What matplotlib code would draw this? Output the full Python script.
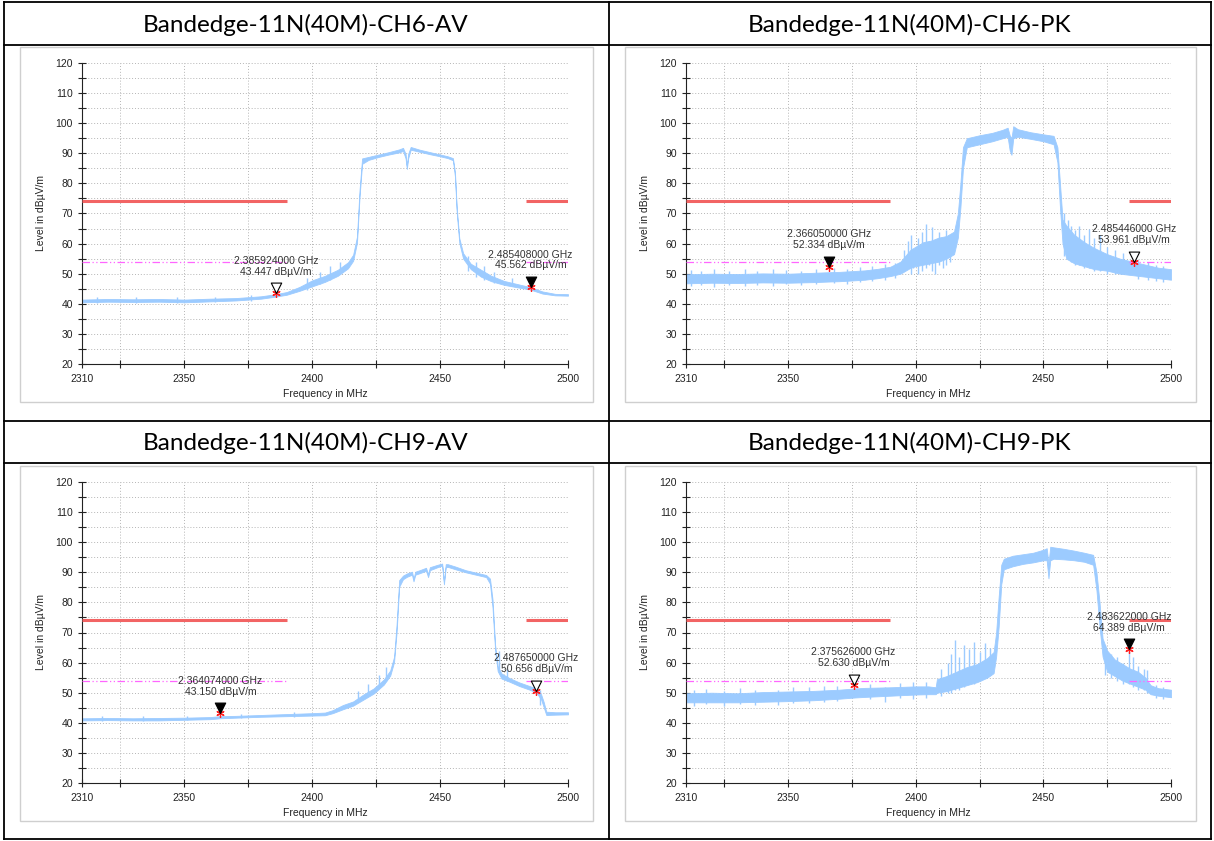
import matplotlib.pyplot as plt
from matplotlib.lines import Line2D
from matplotlib.patches import Rectangle
from matplotlib.path import Path

W, H = 1214, 841

titles = ["Bandedge-11N(40M)-CH6-AV", "Bandedge-11N(40M)-CH6-PK",
          "Bandedge-11N(40M)-CH9-AV", "Bandedge-11N(40M)-CH9-PK"]

# limit lines (dBuV/m) and the frequency spans they cover (MHz)
limit_pk = 74
limit_av = 54
limit_spans = [(2310, 2390), (2483.5, 2500)]

# ---- CH6 AV trace: frequency, lower / upper edge of the trace
av6_f = [2310, 2320, 2330, 2340, 2350, 2360, 2370, 2380, 2385, 2390, 2395, 2400, 2405, 2410, 2414,
         2416, 2417.5, 2418.5, 2419.5, 2422, 2426, 2430, 2434, 2435.5, 2436.5, 2437, 2437.5, 2438.5,
         2442, 2446, 2450, 2453, 2455, 2455.8, 2456.5, 2457.5, 2459, 2462, 2466, 2470, 2475, 2480,
         2485, 2490, 2495, 2500]
av6_lo = [40.5, 40.7, 40.6, 40.7, 40.5, 40.8, 41.1, 41.7, 42.3, 43.0, 44.3, 45.8, 47.3, 49.3, 51.8,
          54.3, 60.3, 75.5, 86.5, 87.8, 88.8, 89.6, 90.3, 90.8, 88.3, 84.8, 88.3, 91.2,
          90.5, 89.7, 89.0, 88.4, 87.7, 82.3, 70.3, 60.3, 55.0, 51.5, 49.0, 47.5, 46.3, 45.5,
          44.8, 43.4, 42.8, 42.7]
av6_hi = [41.4, 41.6, 41.5, 41.6, 41.4, 41.7, 41.9, 42.5, 43.1, 43.9, 45.6, 47.8, 49.3, 51.3, 53.8,
          56.3, 62.3, 77.8, 88.3, 88.8, 89.6, 90.4, 91.3, 91.8, 89.8, 85.8, 89.8, 92.1,
          91.2, 90.4, 89.6, 89.0, 88.4, 83.8, 71.8, 61.8, 56.8, 53.3, 51.3, 49.3, 47.6, 46.6,
          45.6, 44.1, 43.3, 43.2]
av6_spk_f = [2316, 2331, 2347, 2362, 2376, 2398, 2403, 2407, 2411, 2461, 2464, 2467, 2471, 2478]
av6_spk_lo = [40.3, 40.4, 40.3, 40.6, 41.0, 44.5, 46.5, 48.0, 50.0, 51.0, 49.0, 48.0, 46.8, 45.8]
av6_spk_hi = [42.2, 42.3, 42.1, 42.4, 42.8, 48.5, 50.5, 52.5, 54.0, 56.0, 54.0, 52.5, 50.5, 48.5]

# ---- CH6 PK trace
pk6_f = [2310, 2320, 2330, 2340, 2350, 2360, 2366, 2370, 2380, 2385, 2390, 2394, 2396, 2398, 2400,
         2403, 2406, 2409, 2412, 2415, 2416.5, 2417.5, 2418.5, 2420, 2425, 2430, 2434, 2436, 2436.8,
         2437.5, 2438.2, 2440, 2445, 2450, 2454, 2455.5, 2456.5, 2457.5, 2459, 2462, 2466, 2470,
         2475, 2480, 2485, 2490, 2495, 2500]
pk6_lo = [46.8, 47.0, 46.9, 47.1, 47.0, 47.2, 47.4, 47.5, 48.0, 48.5, 49.2, 50.0, 51.0, 52.0, 52.5,
          53.0, 53.5, 54.0, 55.0, 56.5, 62.0, 72.0, 85.0, 92.0, 93.0, 94.0, 95.0, 95.5, 91.0,
          89.5, 95.0, 95.5, 94.8, 94.0, 93.0, 87.0, 72.0, 60.0, 55.0, 53.5, 52.5, 51.5,
          51.0, 50.0, 49.5, 49.0, 48.5, 48.0]
pk6_hi = [49.8, 50.0, 49.9, 50.1, 50.0, 50.3, 50.5, 50.6, 51.1, 51.6, 52.3, 54.0, 56.0, 58.0, 59.0,
          60.5, 61.0, 62.0, 62.5, 64.0, 70.0, 80.0, 92.0, 95.0, 96.0, 96.8, 97.8, 98.5, 96.0,
          95.0, 99.0, 98.0, 97.0, 96.3, 95.8, 92.0, 80.0, 68.0, 66.0, 63.0, 60.5, 58.5,
          56.5, 55.0, 54.0, 53.0, 52.0, 51.5]
pk6_spk_f = [2312, 2316, 2321, 2327, 2333, 2338, 2344, 2349, 2355, 2361, 2368, 2373, 2378, 2383,
             2388, 2392,
             2395.5, 2397, 2398, 2399, 2401, 2402.5, 2404, 2405, 2406.5, 2407.5, 2409, 2410.5, 2412,
             2413.5, 2458, 2459.5, 2461, 2462.5, 2464, 2466, 2468, 2470, 2472, 2475, 2478, 2481,
             2487, 2491, 2494, 2497]
pk6_spk_lo = [45.8, 46.2, 45.6, 46.3, 45.9, 46.4, 46.0, 46.5, 46.2, 46.6, 46.8, 46.5, 47.2, 47.5,
              48.0, 48.5,
              51, 52, 50, 52, 50, 51, 52, 53, 51, 50, 53, 52, 53, 54,
              56, 55, 54, 53, 53, 52, 52, 51, 51, 50, 50, 50,
              48.3, 47.8, 47.5, 47.2]
pk6_spk_hi = [51.3, 50.9, 51.6, 51.0, 51.4, 50.8, 51.5, 51.2, 51.0, 51.7, 52.0, 51.5, 52.3, 52.6,
              53.3, 53.5,
              58, 61, 63, 57, 62, 64, 66.5, 61, 65.5, 60, 64, 60.5, 64.5, 62.5,
              70, 68, 66, 64.5, 66, 63, 65, 62, 63, 59, 58, 57,
              54.5, 53.8, 53.0, 52.5]

# ---- CH9 AV trace
av9_f = [2310, 2320, 2330, 2340, 2350, 2360, 2364, 2370, 2380, 2390, 2400, 2405, 2408, 2412, 2416,
         2420, 2424, 2428, 2430.5, 2432, 2433, 2434, 2435.5, 2437, 2439, 2439.6, 2440.3, 2442,
         2444.5, 2445.3, 2446, 2449, 2450.8, 2451.5, 2452.2, 2453, 2456, 2460, 2464, 2468, 2469.5,
         2470.5, 2471.5, 2472.5, 2474, 2477, 2481, 2485, 2487.7, 2489.5, 2490.5, 2491.5, 2495, 2500]
av9_lo = [40.8, 40.9, 40.8, 40.8, 41.0, 41.2, 41.5, 41.7, 42.0, 42.2, 42.4, 42.5, 43.2, 44.5, 45.7,
          47.7, 49.7, 52.7, 55.7, 60.2, 70.2, 85.2, 87.7, 88.5, 89.2, 87.0, 89.2, 89.7,
          90.5, 88.4, 90.7, 91.7, 92.2, 86.0, 91.7, 91.8, 91.0, 90.0, 89.2, 88.4, 86.2,
          78.2, 64.2, 57.2, 54.7, 53.7, 52.2, 51.0, 50.0, 47.7, 45.2, 42.6, 42.7, 42.8]
av9_hi = [41.5, 41.6, 41.5, 41.6, 41.7, 41.9, 42.2, 42.3, 42.6, 42.9, 43.2, 43.4, 44.2, 45.9, 47.1,
          49.4, 51.4, 54.4, 57.4, 61.9, 72.9, 87.4, 88.9, 89.6, 90.2, 87.9, 90.2, 90.7,
          91.5, 89.4, 91.7, 92.5, 92.9, 86.9, 92.7, 92.7, 91.9, 90.7, 89.9, 89.1, 87.9,
          80.9, 65.9, 58.9, 56.4, 54.9, 53.4, 52.2, 51.4, 49.4, 46.9, 43.7, 43.5, 43.5]
av9_spk_f = [2318, 2334, 2351, 2372, 2393, 2418, 2422, 2426, 2429, 2473, 2476, 2489]
av9_spk_lo = [40.6, 40.6, 40.8, 41.5, 42.0, 47.0, 49.0, 52.0, 54.0, 58.0, 54.0, 46.0]
av9_spk_hi = [42.2, 42.1, 42.4, 43.0, 43.6, 50.5, 53.0, 56.0, 58.5, 64.0, 58.0, 51.0]

# ---- CH9 PK trace
pk9_f = [2310, 2320, 2330, 2340, 2350, 2360, 2370, 2376, 2380, 2390, 2400, 2405, 2407.8, 2408.3,
         2412, 2416, 2420, 2424, 2428, 2430.5, 2431.5, 2432.5, 2433.5, 2434.5, 2438, 2442, 2446,
         2450, 2451.3, 2452, 2452.7, 2454, 2458, 2462, 2466, 2469.5, 2470.8, 2472, 2473.2, 2475,
         2478, 2481, 2484, 2487, 2490, 2492, 2495, 2500]
pk9_lo = [46.8, 46.8, 46.8, 47.0, 47.2, 47.5, 48.0, 48.4, 48.6, 49.0, 49.4, 49.5, 49.5, 50.0,
          50.5, 51.5, 52.5, 53.5, 55.0, 56.5, 62.0, 72.0, 86.0, 91.0, 92.0, 92.8, 93.3,
          94.0, 94.0, 88.0, 94.0, 94.5, 94.3, 94.0, 93.5, 92.5, 84.0, 72.0, 62.0, 57.0,
          55.5, 54.0, 53.0, 52.0, 51.0, 49.5, 49.0, 48.5]
pk9_hi = [49.8, 50.0, 49.8, 50.2, 50.4, 50.6, 51.0, 51.4, 51.6, 51.8, 52.1, 52.1, 51.8, 54.5,
          55.5, 57.0, 58.5, 59.5, 61.5, 63.5, 70.0, 82.0, 92.5, 94.5, 95.5, 96.0, 96.5,
          97.5, 98.0, 93.0, 98.5, 98.3, 97.8, 97.2, 96.5, 95.8, 90.0, 80.0, 68.0, 64.0,
          61.0, 59.5, 58.0, 57.0, 55.0, 52.5, 51.5, 51.0]
pk9_spk_f = [2313, 2318, 2325, 2331, 2337, 2346, 2352, 2358, 2364, 2369, 2382, 2388, 2394, 2399,
             2404,
             2410, 2412.5, 2414, 2415.5, 2417, 2419, 2421, 2423, 2425, 2427,
             2429, 2474, 2476.5, 2479, 2481, 2483.6, 2485, 2487, 2489.5, 2490.5, 2494, 2497]
pk9_spk_lo = [45.5, 46.2, 45.5, 46.4, 46.0, 45.8, 46.5, 46.7, 46.9, 47.2, 47.8, 47.0, 48.2, 48.0,
              48.4,
              49, 50, 50, 51, 51, 52, 53, 53, 54, 55,
              56, 56, 55, 54, 53, 53, 52, 51, 51, 50, 48.2, 47.8]
pk9_spk_hi = [50.8, 51.2, 50.5, 51.4, 51.0, 51.0, 51.8, 52.0, 52.3, 52.2, 52.8, 52.0, 53.3, 53.6,
              53.4,
              58, 60, 63, 67.5, 62, 66, 64.5, 67, 63.5, 66.5,
              65, 66, 63, 62, 60, 64.4, 62, 59, 58, 57.5, 52.5, 52.0]

# markers: frequency (GHz), level, filled triangle or not
mk_freq = [[2.385924, 2.485408], [2.366050, 2.485446], [2.364074, 2.487650], [2.375626, 2.483622]]
mk_level = [[43.447, 45.562], [52.334, 53.961], [43.150, 50.656], [52.630, 64.389]]
mk_filled = [[False, True], [True, False], [True, False], [False, True]]

traces = [(av6_f, av6_lo, av6_hi, av6_spk_f, av6_spk_lo, av6_spk_hi),
          (pk6_f, pk6_lo, pk6_hi, pk6_spk_f, pk6_spk_lo, pk6_spk_hi),
          (av9_f, av9_lo, av9_hi, av9_spk_f, av9_spk_lo, av9_spk_hi),
          (pk9_f, pk9_lo, pk9_hi, pk9_spk_f, pk9_spk_lo, pk9_spk_hi)]

TRACE = '#9ccbff'
SMALL = 'Liberation Sans'
# marker triangle with its tip on the data point
tri = Path([(-0.5, 1.0), (0.5, 1.0), (0.0, 0.0), (-0.5, 1.0)],
           [Path.MOVETO, Path.LINETO, Path.LINETO, Path.CLOSEPOLY])


def fx(px):
    return px / W


def fy(py):
    return 1 - py / H


def draw_panel(ax, tr, mf, ml, mfill):
    f, lo, hi, sf, slo, shi = tr
    ax.fill_between(f, lo, hi, color=TRACE, lw=0.6, edgecolor=TRACE, zorder=2)
    ax.vlines(sf, slo, shi, color=TRACE, lw=1.0, zorder=2)
    for a, b in limit_spans:
        ax.plot([a, b], [limit_pk, limit_pk], color='#f26464', lw=2.2, solid_capstyle='butt', zorder=3)
        ax.plot([a, b], [limit_av, limit_av], color='#ff66ff', lw=0.9,
                dashes=(6, 2, 1, 2, 1, 2), zorder=3)
    for g, lv, filled in zip(mf, ml, mfill):
        x = g * 1000
        ax.plot(x, lv, marker=(6, 2, 0), color='#ff2020', ms=6, mew=0.9, zorder=4)
        ax.plot(x, lv, marker=tri, ms=15, mfc='black' if filled else 'white',
                mec='black', mew=0.8, zorder=5)
        ax.annotate(f"{g:.9f} GHz\n{lv:.3f} dBµV/m", (x, lv), xytext=(0, 12),
                    textcoords='offset points', ha='center', va='bottom', fontsize=7.5,
                    family=SMALL, color='#333333', linespacing=1.1, zorder=6)

    ax.set_xlim(2310, 2500)
    ax.set_ylim(20, 120)
    ax.set_xticks([2310, 2350, 2400, 2450, 2500])
    ax.set_xticks([2325, 2375, 2425, 2475], minor=True)
    ax.set_yticks(range(20, 121, 10))
    ax.set_yticks(range(25, 120, 10), minor=True)
    ax.tick_params(which='both', direction='inout', length=6, width=0.8, labelsize=7.5,
                   colors='#222222')
    ax.tick_params(axis='x', pad=4)
    for lab in ax.get_xticklabels() + ax.get_yticklabels():
        lab.set_family(SMALL)
    ax.grid(which='both', ls=(0, (1, 2)), color='#b5b5b5', lw=0.7)
    ax.spines['top'].set_visible(False)
    ax.spines['right'].set_visible(False)
    ax.spines['left'].set_color('#222222')
    ax.spines['bottom'].set_color('#222222')
    ax.set_xlabel('Frequency in MHz', fontsize=7.5, family=SMALL, color='#222222', labelpad=4)
    ax.set_ylabel('Level in dBµV/m', fontsize=7.5, family=SMALL, color='#222222', labelpad=7)


fig = plt.figure(figsize=(W / 100, H / 100), dpi=100)

# axes boxes in pixels: left, right, top, bottom
boxes = [(82, 568, 63, 364), (686, 1171, 63, 364), (82, 568, 482, 783), (686, 1171, 482, 783)]
frames = [(20, 593, 47, 402), (625, 1196, 47, 402), (20, 593, 466, 821), (625, 1196, 466, 821)]
title_pos = [(306, 25), (910, 25), (306, 443), (910, 443)]

for i in range(4):
    l, r, t, b = frames[i]
    fig.add_artist(Rectangle((fx(l), fy(b)), fx(r - l), (b - t) / H, transform=fig.transFigure,
                             fill=False, ec='#cfcfcf', lw=1.0))
    l, r, t, b = boxes[i]
    ax = fig.add_axes([fx(l), fy(b), fx(r - l), (b - t) / H])
    draw_panel(ax, traces[i], mk_freq[i], mk_level[i], mk_filled[i])
    tx, ty = title_pos[i]
    fig.text(fx(tx), fy(ty), titles[i], ha='center', va='center', fontsize=17.5,
             family='Lato', color='black')

# table grid lines
for y in [2, 45, 421, 463, 839]:
    fig.add_artist(Line2D([fx(4), fx(1211)], [fy(y), fy(y)], color='black', lw=1.3))
for x in [4, 609, 1211]:
    fig.add_artist(Line2D([fx(x), fx(x)], [fy(2), fy(839)], color='black', lw=1.3))

fig.savefig('out.png', dpi=100)
